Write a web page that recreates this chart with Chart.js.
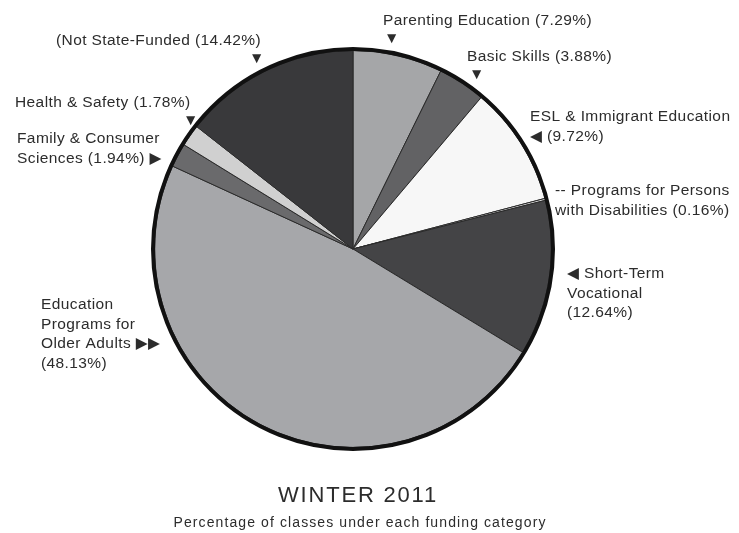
<!DOCTYPE html>
<html>
<head>
<meta charset="utf-8">
<script src="https://cdn.jsdelivr.net/npm/chart.js@4.4.0/dist/chart.umd.min.js"></script>
<style>
    html, body { margin: 0; padding: 0; background: #fff; }
    #wrap { width: 739px; height: 533px; position: relative; }
</style>
</head>
<body>
<div id="wrap"><canvas id="meuGrafico" width="739" height="533"></canvas></div>
<script>
// dados do gráfico (sentido horário a partir das 12h)
const categorias = [
    "Parenting Education",
    "Basic Skills",
    "ESL & Immigrant Education",
    "Programs for Persons with Disabilities",
    "Short-Term Vocational",
    "Education Programs for Older Adults",
    "Family & Consumer Sciences",
    "Health & Safety",
    "Not State-Funded",
];
const percentuais = [7.29, 3.88, 9.72, 0.16, 12.64, 48.13, 1.94, 1.78, 14.42];
const cores = ["#a5a6a8", "#626264", "#f7f7f7", "#e0e0e0", "#444446", "#a6a7aa", "#6a6a6c", "#d0d0d0", "#39393b"];

const titulo = "WINTER 2011";
const subtitulo = "Percentage of classes under each funding category";

// textos dos rótulos (linhas), posicionados a mão
const rotulos = [
    { linhas: ["Parenting Education (7.29%)", "▼"], x: 383, y: 21, dx: [0, 1] },
    { linhas: ["Basic Skills (3.88%)", "▼"], x: 467, y: 57, dx: [0, 2] },
    { linhas: ["ESL & Immigrant Education", "◀ (9.72%)"], x: 530, y: 117 },
    { linhas: ["-- Programs for Persons", "with Disabilities (0.16%)"], x: 555, y: 191 },
    { linhas: ["◀ Short-Term", "Vocational", "(12.64%)"], x: 567, y: 274 },
    { linhas: ["Education", "Programs for", "Older Adults ▶▶", "(48.13%)"], x: 41, y: 305 },
    { linhas: ["Family & Consumer", "Sciences (1.94%) ▶"], x: 17, y: 139 },
    { linhas: ["Health & Safety (1.78%)", "▼"], x: 15, y: 103, dx: [0, 168] },
    { linhas: ["(Not State-Funded (14.42%)", "▼"], x: 56, y: 41, dx: [0, 193] },
];

const FONTE = '"Liberation Sans", Arial, "DejaVu Sans", sans-serif';

// plugin: borda externa grossa + rótulos + títulos
const pluginDesenho = {
    id: "desenho",
    afterDatasetsDraw(chart) {
        const ctx = chart.ctx;
        const arco = chart.getDatasetMeta(0).data[0];
        ctx.save();
        ctx.beginPath();
        ctx.arc(arco.x, arco.y, arco.outerRadius + 1.5, 0, Math.PI * 2);
        ctx.lineWidth = 4;
        ctx.strokeStyle = "#111";
        ctx.stroke();
        ctx.restore();
    },
    afterDraw(chart) {
        const ctx = chart.ctx;
        ctx.save();
        ctx.fillStyle = "#2c2c2c";
        ctx.textBaseline = "middle";
        ctx.textAlign = "left";
        ctx.font = "15.5px " + FONTE;
        ctx.letterSpacing = "0.4px";
        rotulos.forEach((r) => {
            r.linhas.forEach((linha, i) => {
                const dx = r.dx ? r.dx[i] : 0;
                ctx.fillText(linha, r.x + dx, r.y + i * (r.dx ? 18 : 19.5));
            });
        });
        ctx.textAlign = "center";
        ctx.font = "22px " + FONTE;
        ctx.letterSpacing = "1.8px";
        ctx.fillText(titulo, 358, 496);
        ctx.font = "14px " + FONTE;
        ctx.letterSpacing = "1.1px";
        ctx.fillText(subtitulo, 360, 523);
        ctx.restore();
    },
};

const ctx = document.getElementById("meuGrafico").getContext("2d");
new Chart(ctx, {
    type: "pie",
    data: {
        labels: categorias,
        datasets: [
            {
                data: percentuais,
                backgroundColor: cores,
                borderColor: "#2a2a2a",
                borderWidth: 1,
                hoverOffset: 0,
            },
        ],
    },
    options: {
        responsive: false,
        animation: false,
        events: [],
        layout: {
            padding: { top: 50, bottom: 85, left: 154, right: 187 },
        },
        plugins: {
            legend: { display: false },
            tooltip: { enabled: false },
        },
    },
    plugins: [pluginDesenho],
});
</script>
</body>
</html>
